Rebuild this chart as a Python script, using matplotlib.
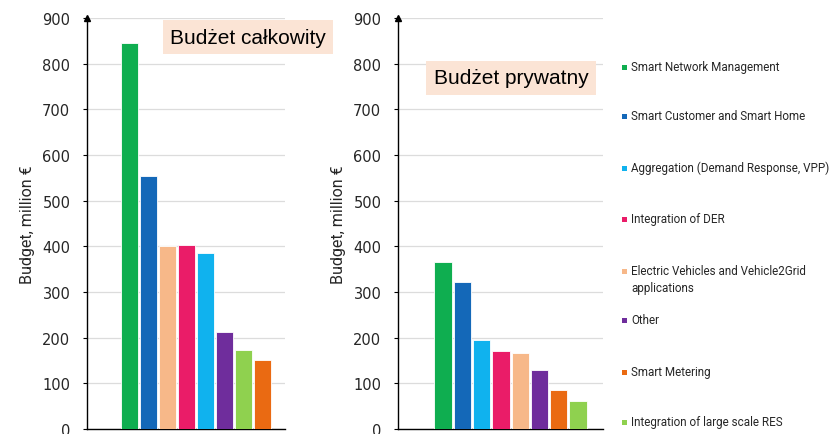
import matplotlib
matplotlib.use("Agg")
import matplotlib.pyplot as plt
from matplotlib.patches import Rectangle
import numpy as np

#### Data: budgets per category, million EUR

categories = ["Smart Network Management",
              "Smart Customer and Smart Home",
              "Aggregation (Demand Response, VPP)",
              "Integration of DER",
              "Electric Vehicles and Vehicle2Grid\napplications",
              "Other",
              "Smart Metering",
              "Integration of large scale RES"]
colors = ["#0fae50", "#1468b8", "#10b2ee", "#ea1c68",
          "#f7b889", "#6f2d9c", "#ea6a12", "#8fd14f"]

budget_total = [846, 555, 385, 402, 400, 212, 151, 173]
budget_private = [365, 321, 195, 170, 166, 129, 85, 61]

# bar order left to right in each panel
order_total = [0, 1, 4, 3, 2, 5, 7, 6]
order_private = [0, 1, 2, 3, 4, 5, 6, 7]

yticks = list(range(0, 1000, 100))

#### Figure

W, H = 836, 435
fig = plt.figure(figsize=(W / 100, H / 100), dpi=100)
fig.patch.set_facecolor("white")

narrow = ["Roboto", "DejaVu Sans"]


def px(x0, y0, w, h):
    # pixel box (top-left origin) -> figure fraction
    return [x0 / W, 1 - (y0 + h) / H, w / W, h / H]


def panel(rect, values, order, xlim, title, title_xy):
    ax = fig.add_axes(rect)
    vals = [values[i] for i in order]
    cols = [colors[i] for i in order]
    ax.bar(np.arange(len(vals)), vals, width=0.9, color=cols,
           edgecolor="white", linewidth=0.6, zorder=3)
    ax.set_xlim(*xlim)
    ax.set_ylim(0, 900)
    ax.set_yticks(yticks)
    ax.set_xticks([])
    ax.yaxis.grid(True, color="#dcdcdc", linewidth=0.9, zorder=0)
    for s in ["top", "right"]:
        ax.spines[s].set_visible(False)
    ax.spines["left"].set_linewidth(1.0)
    ax.spines["bottom"].set_linewidth(1.0)
    ax.tick_params(axis="y", direction="out", length=3, width=0.8,
                   labelsize=10.5, labelcolor="#262626", pad=9)
    ax.plot([0], [1], marker="^", markersize=5, color="black",
            transform=ax.transAxes, clip_on=False, zorder=5)
    ax.set_ylabel("Budget, million €", family=narrow, fontsize=11.5,
                  color="#262626", labelpad=5)
    fig.text(title_xy[0] / W, 1 - title_xy[1] / H, title,
             family=["Liberation Sans", "DejaVu Sans"], fontsize=15,
             ha="center", va="center",
             bbox=dict(boxstyle="square,pad=0.35", facecolor="#fbe4d5",
                       edgecolor="none"))
    return ax


ax1 = panel(px(87, 19, 198, 411), budget_total, order_total,
            (-2.24, 8.18), "Budżet całkowity", (248, 38))
ax2 = panel(px(398, 19, 205, 411), budget_private, order_private,
            (-2.33, 8.29), "Budżet prywatny", (511, 79))

#### Legend drawn by hand next to the right panel

legend_y = [68, 117, 169, 220, 272, 321, 373, 423]
for lab, col, y in zip(categories, colors, legend_y):
    fig.patches.append(Rectangle((622 / W, 1 - (y + 2.5) / H), 5 / W, 5 / H,
                                 transform=fig.transFigure, facecolor=col,
                                 edgecolor="none"))
    fig.text(631 / W, 1 - (y - 7) / H, lab, family=narrow, fontsize=8.4,
             color="#262626", ha="left", va="top", linespacing=1.4)

fig.savefig("out.png", dpi=100, facecolor="white")
